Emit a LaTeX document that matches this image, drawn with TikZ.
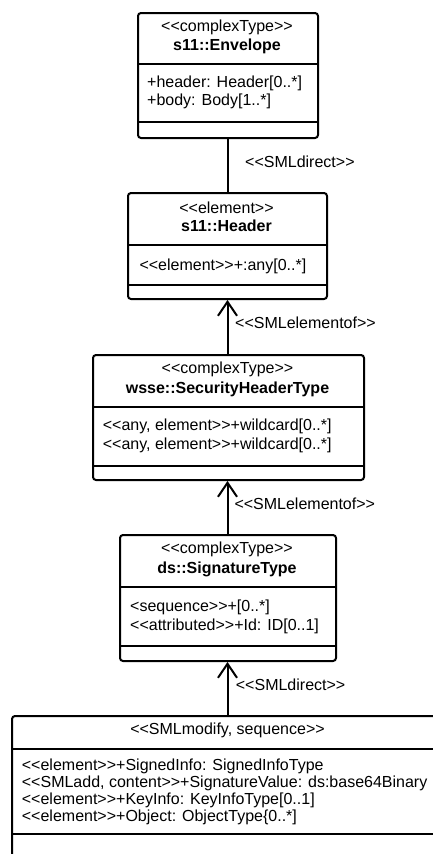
\documentclass[tikz,border=0pt]{standalone}
\usepackage{fontspec}
\newfontfamily\umlfont{Liberation Sans}
\usetikzlibrary{arrows.meta}
\tikzset{
  umlbox/.style={draw, line width=2pt, rounded corners=3pt, fill=white, inner sep=0pt, anchor=north west},
  divider/.style={line width=2pt},
  txt/.style={font=\umlfont\fontsize{16}{18}\selectfont, inner sep=0pt},
  ttl/.style={txt, anchor=base},
  attr/.style={txt, anchor=base west},
  lbl/.style={txt, anchor=base west},
  conn/.style={line width=2pt},
  arr/.style={line width=2pt, -{Straight Barb[length=14pt,width=19pt]}}
}
\begin{document}
\begin{tikzpicture}[x=1pt,y=-1pt]
\useasboundingbox (0,0) rectangle (433,854);
\clip (0,0) rectangle (433,854);
\fill[white] (0,0) rectangle (433,854);

% Box 1: s11::Envelope
\node[umlbox, minimum width=180pt, minimum height=125pt] (env) at (137,12) {};
\draw[divider] (137,64) -- (317,64);
\draw[divider] (137,122) -- (317,122);
\node[ttl] (envs) at (227,31) {<<complexType>>};
\node[ttl] (envn) at (227,50.5) {\bfseries s11::Envelope};
\node[attr] (enva1) at (147,87.5) {+header: Header[0..*]};
\node[attr] (enva2) at (147,105.5) {+body: Body[1..*]};

% Box 2: s11::Header
\node[umlbox, minimum width=199pt, minimum height=106pt] (hdr) at (127,192) {};
\draw[divider] (127,245) -- (326,245);
\draw[divider] (127,285) -- (326,285);
\node[ttl] (hdrs) at (226.5,213.5) {<<element>>};
\node[ttl] (hdrn) at (226.5,231.5) {\bfseries s11::Header};
\node[attr] (hdra1) at (139.3,270.5) {<<element>>+:any[0..*]};

% Box 3: wsse::SecurityHeaderType
\node[umlbox, minimum width=271pt, minimum height=125pt] (wsse) at (92,354) {};
\draw[divider] (92,407) -- (363,407);
\draw[divider] (92,466) -- (363,466);
\node[ttl] (wsses) at (227.5,373.5) {<<complexType>>};
\node[ttl] (wssen) at (227.5,393) {\bfseries wsse::SecurityHeaderType};
\node[attr] (wssea1) at (102.7,430) {<<any, element>>+wildcard[0..*]};
\node[attr] (wssea2) at (102.7,449) {<<any, element>>+wildcard[0..*]};

% Box 4: ds::SignatureType
\node[umlbox, minimum width=216pt, minimum height=126pt] (sig) at (119,534) {};
\draw[divider] (119,587) -- (335,587);
\draw[divider] (119,646) -- (335,646);
\node[ttl] (sigs) at (227,553.3) {<<complexType>>};
\node[ttl] (sign) at (227,573) {\bfseries ds::SignatureType};
\node[attr] (siga1) at (130,611) {<sequence>>+[0..*]};
\node[attr] (siga2) at (130,630) {<<attributed>>+Id: ID[0..1]};

% Box 5: SMLmodify, sequence
\node[umlbox, minimum width=433pt, minimum height=160pt] (mod) at (11,715) {};
\draw[divider] (11,749) -- (444,749);
\draw[divider] (11,834) -- (444,834);
\node[ttl] (mods) at (227.5,734) {<<SMLmodify, sequence>>};
\node[attr] (moda1) at (21.7,770) {<<element>>+SignedInfo: SignedInfoType};
\node[attr] (moda2) at (21.7,787) {<<SMLadd, content>>+SignatureValue: ds:base64Binary};
\node[attr] (moda3) at (21.7,804) {<<element>>+KeyInfo: KeyInfoType[0..1]};
\node[attr] (moda4) at (21.7,821) {<<element>>+Object: ObjectType\{0..*]};

% Connectors
\draw[conn] (env.south -| 227.5,0) -- (hdr.north -| 227.5,0);
\draw[arr] (wsse.north -| 227.5,0) -- (hdr.south -| 227.5,0);
\draw[arr] (sig.north -| 227.5,0) -- (wsse.south -| 227.5,0);
\draw[arr] (mod.north -| 227.5,0) -- (sig.south -| 227.5,0);

% Connector labels
\node[lbl] (l1) at (245,167.3) {<<SMLdirect>>};
\node[lbl] (l2) at (235,328) {<<SMLelementof>>};
\node[lbl] (l3) at (234.3,509.3) {<<SMLelementof>>};
\node[lbl] (l4) at (235.7,690) {<<SMLdirect>>};
\end{tikzpicture}
\end{document}
